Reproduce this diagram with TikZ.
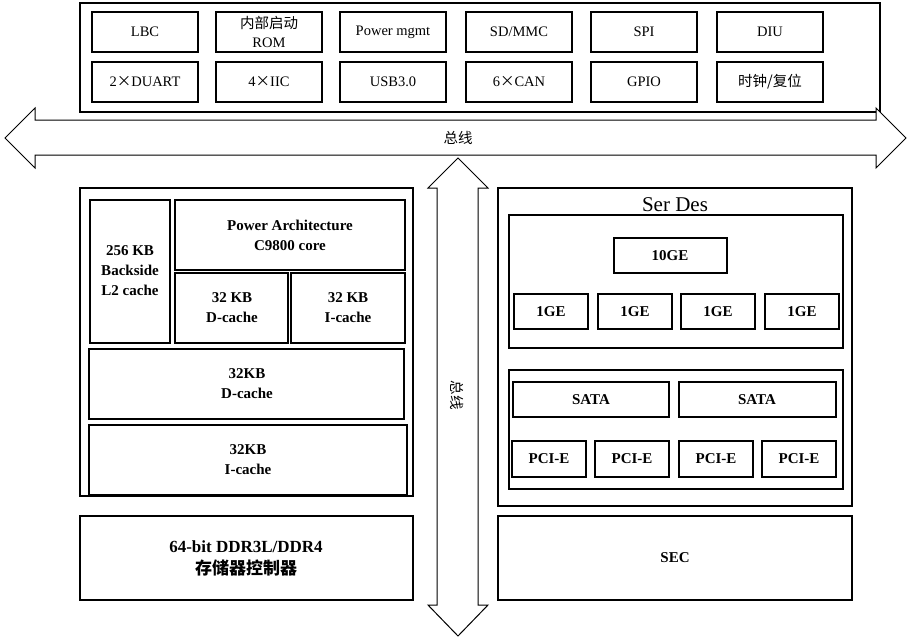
\documentclass[tikz,border=0pt]{standalone}
\usepackage{fontspec}
\setmainfont{Liberation Serif}
\newfontfamily\cjk{Noto Sans CJK SC}
\begin{document}
\begin{tikzpicture}[x=1pt,y=-1pt,
  bx/.style={draw=black,line width=1.2pt},
  lb/.style={font=\fontsize{14.5}{15}\selectfont,align=center},
  bl/.style={font=\fontsize{15}{20}\selectfont\bfseries,align=center}]
\useasboundingbox (0,0) rectangle (911,641);
% top
\draw[bx] (80,3) rectangle (880,112);
\foreach \x/\a/\b [count=\i] in {92/LBC/2{\cjk ×}DUART,216/{}/4{\cjk ×}IIC,340/Power mgmt/USB3.0,466/{SD/MMC}/6{\cjk ×}CAN,591/SPI/GPIO,717/DIU/{\cjk 时钟/复位}}{
  \draw[bx] (\x,12) rectangle ++(106,40);
  \node[lb] (t\i) at (\x+53,32) {\a};
  \draw[bx] (\x,62) rectangle ++(106,40);
  \node[lb] (u\i) at (\x+53,82) {\b};
}
\node[font=\fontsize{14.5}{19}\selectfont,align=center] (rom) at (269,32) {{\cjk 内部启动}\\ROM};
% horizontal arrow
\draw[line width=1pt,fill=white] (5,138) -- (35,108) -- (35,120) -- (876,120) -- (876,108) -- (906,138) -- (876,168) -- (876,155) -- (35,155) -- (35,168) -- cycle;
\node[lb] (bus) at (458,138) {\cjk 总线};
% vertical arrow
\draw[line width=1pt,fill=white] (458,158) -- (488,188) -- (478,188) -- (478,605) -- (488,605) -- (458,636) -- (428,605) -- (437,605) -- (437,188) -- (428,188) -- cycle;
\node[lb,rotate=-90] (vbus) at (457,395) {\cjk 总线};
% left
\draw[bx] (80,188) rectangle (413,496);
\draw[bx] (90,200) rectangle (170,343); \node[bl] (l2) at (130,271) {256 KB\\Backside\\L2 cache};
\draw[bx] (175,200) rectangle (405,270); \node[bl] (pa) at (290,235) {Power Architecture\\C9800 core};
\draw[bx] (175,273) rectangle (288,343); \node[bl] (dc1) at (232,308) {32 KB\\D-cache};
\draw[bx] (291,273) rectangle (405,343); \node[bl] (ic1) at (348,308) {32 KB\\I-cache};
\draw[bx] (89,349) rectangle (404,419); \node[bl] (dc2) at (247,384) {32KB\\D-cache};
\draw[bx] (89,425) rectangle (407,495); \node[bl] (ic2) at (248,460) {32KB\\I-cache};
\draw[bx] (80,516) rectangle (413,600);
\node[font=\fontsize{17}{22}\selectfont\bfseries,align=center] (ddr) at (246,558) {64-bit DDR3L/DDR4\\{\cjk 存储器控制器}};
% right
\draw[bx] (498,188) rectangle (852,506);
\node[font=\fontsize{21}{22}\selectfont] (sd) at (675,205) {Ser Des};
\draw[bx] (509,215) rectangle (843,348);
\draw[bx] (614,238) rectangle (727,273); \node[bl] (g10) at (670,256) {10GE};
\foreach \x [count=\i] in {514,598,681,765}{
  \draw[bx] (\x,294) rectangle ++(74,35); \node[bl] (g\i) at (\x+37,312) {1GE};}
\draw[bx] (509,370) rectangle (843,489);
\draw[bx] (513,382) rectangle (669,417); \node[bl] (sa1) at (591,400) {SATA};
\draw[bx] (679,382) rectangle (836,417); \node[bl] (sa2) at (757,400) {SATA};
\foreach \x [count=\i] in {512,595,679,762}{
  \draw[bx] (\x,441) rectangle ++(74,36); \node[bl] (p\i) at (\x+37,459) {PCI-E};}
\draw[bx] (498,516) rectangle (852,600); \node[bl] (sec) at (675,558) {SEC};
\end{tikzpicture}
\end{document}
